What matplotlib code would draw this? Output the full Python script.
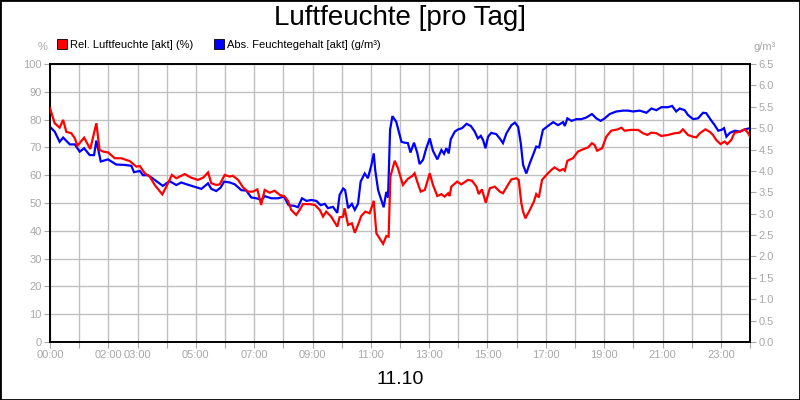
import matplotlib
matplotlib.use("Agg")
import matplotlib.pyplot as plt
from matplotlib.patches import Rectangle
from matplotlib.lines import Line2D

plt.rcParams['font.family'] = ['Liberation Sans', 'DejaVu Sans']

title = "Luftfeuchte [pro Tag]"
date_label = "11.10"
rel_name = "Rel. Luftfeuchte [akt] (%)"
abs_name = "Abs. Feuchtegehalt [akt] (g/m³)"

# hours of day and relative humidity (%)
rel_hours = [0.0, 0.16, 0.33, 0.45, 0.56, 0.73, 0.85, 0.94, 1.17, 1.38, 1.53, 1.59, 1.70, 1.82, 1.99,
             2.22, 2.44, 2.73, 2.96, 3.08, 3.25, 3.42, 3.59, 3.85, 3.99, 4.18, 4.33, 4.62, 4.84, 5.07,
             5.25, 5.42, 5.53, 5.70, 5.82, 5.99, 6.16, 6.27, 6.45, 6.62, 6.79, 6.96, 7.11, 7.24, 7.36,
             7.53, 7.70, 7.88, 8.05, 8.16, 8.27, 8.44, 8.56, 8.67, 8.90, 9.08, 9.25, 9.36, 9.47, 9.64,
             9.85, 9.93, 10.05, 10.10, 10.22, 10.35, 10.45, 10.56, 10.67, 10.81, 10.96, 11.10, 11.19,
             11.30, 11.42, 11.53, 11.61, 11.67, 11.82, 11.93, 12.10, 12.27, 12.42, 12.50, 12.59, 12.71,
             12.85, 13.02, 13.13, 13.28, 13.42, 13.53, 13.65, 13.70, 13.76, 13.96, 14.10, 14.33, 14.47,
             14.62, 14.70, 14.81, 14.94, 15.08, 15.25, 15.42, 15.53, 15.70, 15.82, 15.99, 16.07, 16.16,
             16.22, 16.30, 16.45, 16.59, 16.67, 16.76, 16.87, 17.02, 17.19, 17.30, 17.48, 17.59, 17.65,
             17.74, 17.93, 18.10, 18.27, 18.45, 18.58, 18.67, 18.76, 18.93, 19.07, 19.24, 19.47, 19.59,
             19.70, 19.93, 20.16, 20.33, 20.48, 20.62, 20.79, 20.96, 21.19, 21.42, 21.59, 21.70, 21.87,
             22.05, 22.16, 22.28, 22.47, 22.62, 22.73, 22.84, 22.99, 23.13, 23.22, 23.36, 23.47, 23.65,
             23.82, 23.93, 24.0]
rel_values = [84.1, 78.7, 77.1, 79.9, 75.6, 75.1, 73.3, 70.6, 73.5, 69.4, 76.0, 78.7, 69.1, 68.5, 68.2,
              66.1, 66.1, 65.1, 63.1, 63.3, 60.7, 59.5, 56.5, 53.1, 55.9, 60.1, 58.9, 60.4, 59.1, 58.3,
              59.1, 61.0, 57.1, 56.5, 56.7, 60.1, 59.5, 59.8, 58.3, 55.6, 54.1, 54.1, 54.9, 49.3, 54.7,
              53.7, 54.4, 52.9, 52.3, 50.8, 47.5, 45.7, 47.5, 49.6, 49.6, 49.3, 47.5, 45.1, 46.9, 45.1,
              41.5, 44.9, 45.1, 48.1, 42.1, 42.7, 39.3, 42.1, 45.3, 46.9, 46.3, 50.8, 39.1,
              37.3, 35.3, 38.1, 37.9, 59.5, 65.2, 62.5, 56.5, 58.7, 59.7, 60.7, 57.7, 54.1,
              54.7, 60.7, 56.5, 52.5, 53.2, 52.3, 53.5, 52.5, 55.9, 57.7, 56.7, 58.3, 58.0,
              55.9, 53.2, 54.9, 50.1, 55.3, 55.9, 54.1, 53.5, 56.5, 58.5, 58.9, 58.3, 49.9,
              46.9, 44.5, 47.5, 50.5, 53.2, 52.0, 58.3, 60.1, 61.9, 62.8, 61.6, 62.2, 61.6,
              65.2, 66.1, 68.5, 69.3, 70.0, 71.5, 70.9, 68.8, 69.7, 73.8, 76.0, 76.5, 77.1,
              76.0, 76.3, 76.3, 75.1, 74.5, 75.3, 75.1, 74.1, 74.5, 75.1, 75.3, 76.5, 74.5,
              73.8, 73.6, 75.1, 76.5, 75.6, 74.5, 72.7, 71.2, 72.1, 71.2, 72.7, 75.3, 75.6,
              76.5, 75.3, 73.8]

# hours of day and absolute humidity (g/m³)
abs_hours = [0.0, 0.16, 0.33, 0.45, 0.68, 0.85, 1.02, 1.17, 1.36, 1.51, 1.59, 1.74, 1.99, 2.27, 2.56,
             2.79, 2.88, 3.08, 3.19, 3.36, 3.59, 3.87, 4.10, 4.33, 4.50, 4.67, 4.96, 5.19, 5.42, 5.53,
             5.70, 5.85, 5.97, 6.16, 6.33, 6.56, 6.73, 6.90, 7.08, 7.25, 7.36, 7.59, 7.82, 8.02, 8.18,
             8.39, 8.50, 8.64, 8.79, 8.96, 9.13, 9.28, 9.42, 9.53, 9.70, 9.85, 9.93, 10.05, 10.12, 10.22,
             10.35, 10.45, 10.56, 10.65, 10.79, 10.90, 11.02, 11.10, 11.15, 11.25, 11.36, 11.44, 11.53,
             11.59, 11.66, 11.74, 11.87, 12.05, 12.16, 12.27, 12.36, 12.48, 12.59, 12.67, 12.79, 12.90,
             13.02, 13.13, 13.28, 13.42, 13.51, 13.59, 13.67, 13.74, 13.88, 13.99, 14.13, 14.28, 14.43,
             14.56, 14.67, 14.77, 14.85, 14.93, 15.02, 15.13, 15.30, 15.42, 15.53, 15.65, 15.82, 15.94,
             16.05, 16.14, 16.22, 16.33, 16.45, 16.56, 16.67, 16.77, 16.90, 17.07, 17.25, 17.42, 17.59,
             17.65, 17.74, 17.88, 18.05, 18.22, 18.39, 18.58, 18.73, 18.88, 19.02, 19.19, 19.42, 19.65,
             19.82, 19.99, 20.22, 20.45, 20.62, 20.79, 20.96, 21.19, 21.33, 21.47, 21.59, 21.76, 21.87,
             22.05, 22.22, 22.39, 22.50, 22.68, 22.79, 22.91, 23.02, 23.11, 23.19, 23.31, 23.48, 23.65,
             23.82, 24.0]
abs_values = [5.03, 4.92, 4.68, 4.78, 4.62, 4.62, 4.45, 4.53, 4.37, 4.37, 4.71, 4.22, 4.27, 4.15, 4.14,
              4.12, 3.97, 4.00, 3.90, 3.90, 3.79, 3.65, 3.76, 3.67, 3.73, 3.69, 3.63, 3.58, 3.71, 3.58,
              3.53, 3.61, 3.75, 3.73, 3.69, 3.55, 3.54, 3.38, 3.36, 3.32, 3.41, 3.36, 3.36, 3.40, 3.20,
              3.18, 3.15, 3.36, 3.30, 3.32, 3.30, 3.20, 3.23, 3.13, 3.16, 3.02, 3.44, 3.59, 3.55, 3.13,
              3.23, 3.09, 3.23, 3.75, 3.94, 3.83, 4.14, 4.41, 4.02, 3.55, 3.32, 3.15, 3.51,
              3.38, 4.96, 5.28, 5.15, 4.68, 4.66, 4.65, 4.43, 4.66, 4.43, 4.16, 4.26, 4.53,
              4.76, 4.47, 4.27, 4.49, 4.40, 4.53, 4.41, 4.74, 4.92, 4.97, 5.00, 5.10, 5.05,
              4.92, 4.76, 4.82, 4.72, 4.53, 4.80, 4.89, 4.86, 4.76, 4.65, 4.88, 5.07, 5.13,
              5.03, 4.65, 4.14, 3.94, 4.18, 4.37, 4.57, 4.55, 4.96, 5.05, 5.14, 5.07, 5.14,
              5.05, 5.23, 5.17, 5.21, 5.21, 5.25, 5.33, 5.23, 5.17, 5.23, 5.33, 5.39, 5.41,
              5.41, 5.39, 5.41, 5.36, 5.46, 5.42, 5.49, 5.49, 5.52, 5.39, 5.46, 5.42, 5.31,
              5.21, 5.23, 5.36, 5.35, 5.17, 5.07, 4.94, 4.96, 5.00, 4.80, 4.89, 4.94, 4.92,
              4.97, 5.00]

x_tick_hours = list(range(0, 25))
x_label_hours = [0, 2, 3, 5, 7, 9, 11, 13, 15, 17, 19, 21, 23]
left_ticks = list(range(0, 101, 10))
right_ticks = [i * 0.5 for i in range(14)]

GRAY = '#a8a8a8'
GRID = '#c0c0c0'

fig = plt.figure(figsize=(8, 4), dpi=100, facecolor='white')
pos = [50 / 800, 58 / 400, 700 / 800, 278 / 400]
ax = fig.add_axes(pos)
ax.set_xlim(0, 24)
ax.set_ylim(0, 100)
ax.set_xticks(x_tick_hours)
ax.set_xticklabels([f"{h:02d}:00" if h in x_label_hours else "" for h in x_tick_hours])
ax.set_yticks(left_ticks)
ax.set_yticklabels([str(v) for v in left_ticks])
ax.grid(True, color=GRID, linewidth=1.0)
ax.set_axisbelow(True)
ax.tick_params(axis='both', colors=GRAY, labelcolor=GRAY, labelsize=8, length=4, width=0.8, pad=2)
for s in ax.spines.values():
    s.set_color('black')
    s.set_linewidth(1.2)

ax2 = ax.twinx()
ax2.set_ylim(0, 6.5)
ax2.set_yticks(right_ticks)
ax2.set_yticklabels([f"{v:.1f}" for v in right_ticks])
ax2.tick_params(axis='y', colors=GRAY, labelcolor=GRAY, labelsize=8, length=4, width=0.8, pad=2)
for s in ax2.spines.values():
    s.set_color('black')
    s.set_linewidth(1.2)
ax2.plot(abs_hours, abs_values, color='#0000ff', linewidth=1.6, solid_joinstyle='miter')

ax3 = fig.add_axes(pos, sharex=ax, sharey=ax)
ax3.patch.set_visible(False)
ax3.axis('off')
ax3.plot(rel_hours, rel_values, color='#ff0000', linewidth=1.6, solid_joinstyle='miter')

fig.text(0.5, 0.955, title, ha='center', va='center', fontsize=20, color='black')
fig.text(0.5, 0.05, date_label, ha='center', va='center', fontsize=14, color='black')
fig.text(43 / 800, 1 - 47 / 400, "%", ha='center', va='center', fontsize=8, color=GRAY)
fig.text(765 / 800, 1 - 47 / 400, "g/m³", ha='center', va='center', fontsize=8, color=GRAY)

handles = [Line2D([], [], marker='s', linestyle='None', markersize=7, markerfacecolor='#ff0000',
                  markeredgecolor='black', markeredgewidth=0.6),
           Line2D([], [], marker='s', linestyle='None', markersize=7, markerfacecolor='#0000ff',
                  markeredgecolor='black', markeredgewidth=0.6)]
fig.legend(handles, [rel_name, abs_name], loc='center left', bbox_to_anchor=(58 / 800, 1 - 45 / 400),
           ncol=2, frameon=False, fontsize=8, handlelength=0.8, handletextpad=0.3, columnspacing=1.9,
           borderpad=0, borderaxespad=0)

fig.patches.append(Rectangle((0, 0), 1, 1, transform=fig.transFigure, fill=False,
                             edgecolor='black', linewidth=2))

fig.savefig('out.png', dpi=100, facecolor='white')
